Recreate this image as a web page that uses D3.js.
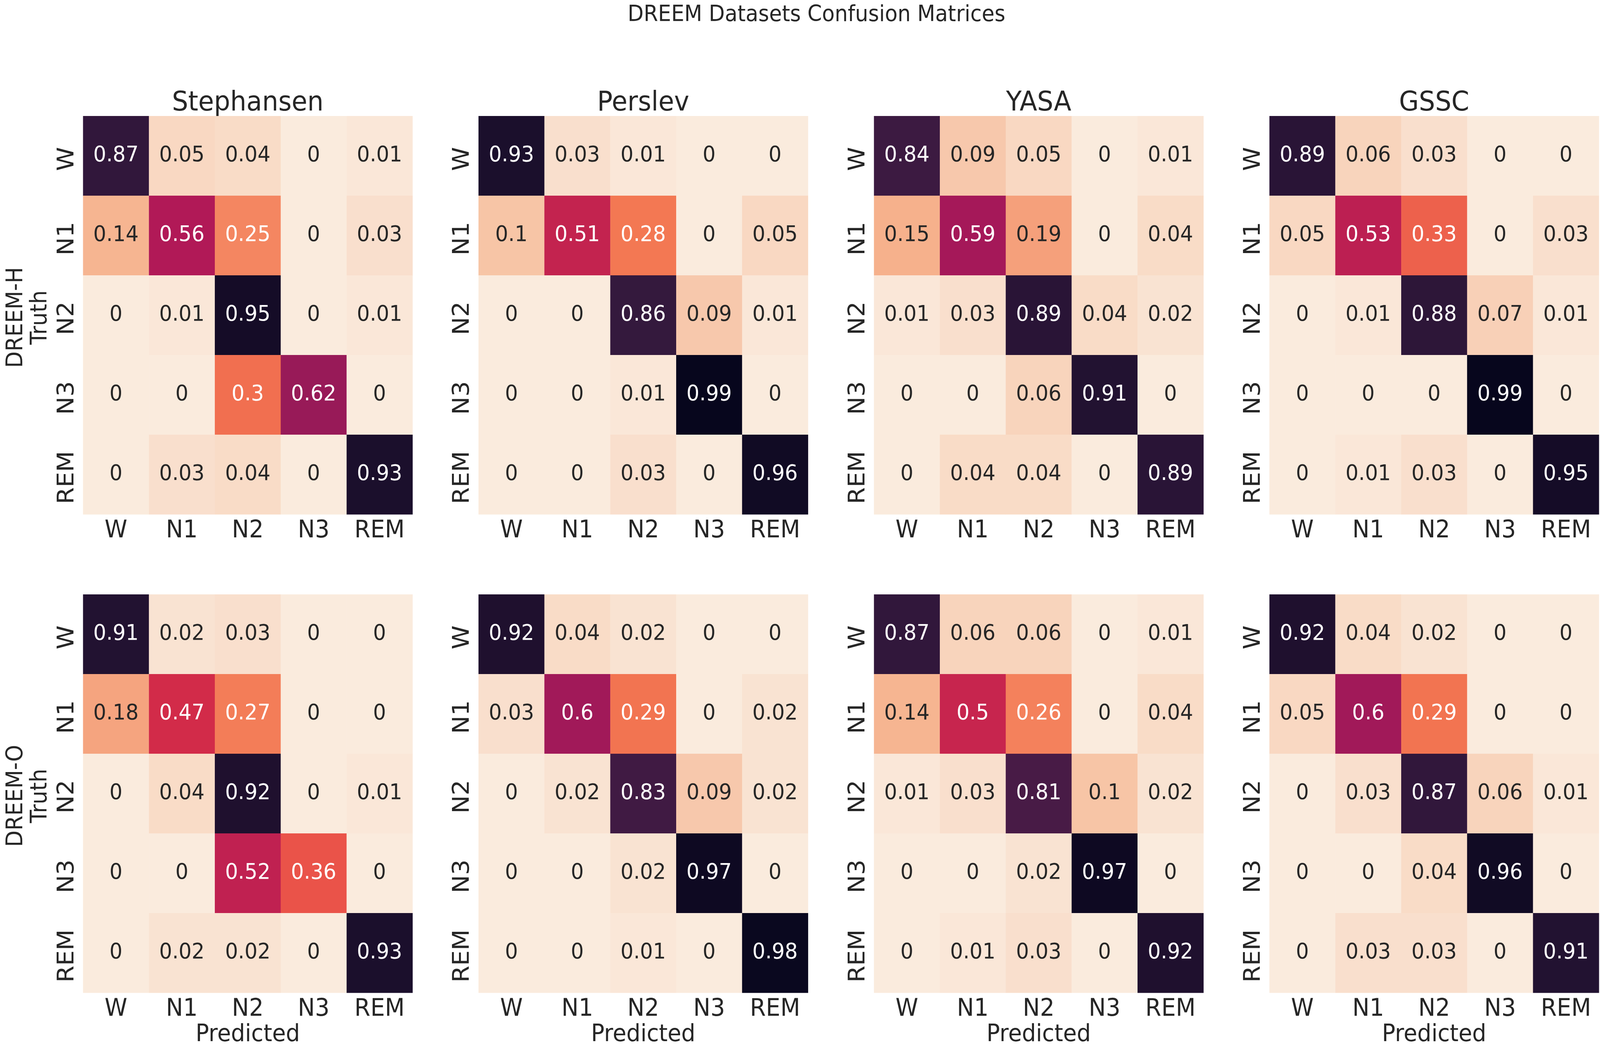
<!DOCTYPE html>
<html lang="en">
<head>
  <meta charset="UTF-8">
  <title>DREEM Datasets Confusion Matrices</title>
  <style>
    html, body { margin: 0; padding: 0; background: #fff; overflow: hidden; }
    svg { display: block; width: 100vw; height: 100vh; font-family: 'DejaVu Sans', sans-serif; }
  </style>
</head>
<body>
<svg viewBox="0 0 4317 2681" preserveAspectRatio="none"></svg>

<script src="https://cdn.jsdelivr.net/npm/d3@7"></script>
<script>
  // sleep stages (rows = truth, cols = predicted)
  var stages = ['W', 'N1', 'N2', 'N3', 'REM'];
  var models = ['Stephansen', 'Perslev', 'YASA', 'GSSC'];
  var datasets = ['DREEM-H', 'DREEM-O'];

  // DREEM-H
  var hStephansen = [
    [0.87, 0.05, 0.04, 0, 0.01],
    [0.14, 0.56, 0.25, 0, 0.03],
    [0, 0.01, 0.95, 0, 0.01],
    [0, 0, 0.3, 0.62, 0],
    [0, 0.03, 0.04, 0, 0.93]
  ];
  var hPerslev = [
    [0.93, 0.03, 0.01, 0, 0],
    [0.1, 0.51, 0.28, 0, 0.05],
    [0, 0, 0.86, 0.09, 0.01],
    [0, 0, 0.01, 0.99, 0],
    [0, 0, 0.03, 0, 0.96]
  ];
  var hYasa = [
    [0.84, 0.09, 0.05, 0, 0.01],
    [0.15, 0.59, 0.19, 0, 0.04],
    [0.01, 0.03, 0.89, 0.04, 0.02],
    [0, 0, 0.06, 0.91, 0],
    [0, 0.04, 0.04, 0, 0.89]
  ];
  var hGssc = [
    [0.89, 0.06, 0.03, 0, 0],
    [0.05, 0.53, 0.33, 0, 0.03],
    [0, 0.01, 0.88, 0.07, 0.01],
    [0, 0, 0, 0.99, 0],
    [0, 0.01, 0.03, 0, 0.95]
  ];

  // DREEM-O
  var oStephansen = [
    [0.91, 0.02, 0.03, 0, 0],
    [0.18, 0.47, 0.27, 0, 0],
    [0, 0.04, 0.92, 0, 0.01],
    [0, 0, 0.52, 0.36, 0],
    [0, 0.02, 0.02, 0, 0.93]
  ];
  var oPerslev = [
    [0.92, 0.04, 0.02, 0, 0],
    [0.03, 0.6, 0.29, 0, 0.02],
    [0, 0.02, 0.83, 0.09, 0.02],
    [0, 0, 0.02, 0.97, 0],
    [0, 0, 0.01, 0, 0.98]
  ];
  var oYasa = [
    [0.87, 0.06, 0.06, 0, 0.01],
    [0.14, 0.5, 0.26, 0, 0.04],
    [0.01, 0.03, 0.81, 0.1, 0.02],
    [0, 0, 0.02, 0.97, 0],
    [0, 0.01, 0.03, 0, 0.92]
  ];
  var oGssc = [
    [0.92, 0.04, 0.02, 0, 0],
    [0.05, 0.6, 0.29, 0, 0],
    [0, 0.03, 0.87, 0.06, 0.01],
    [0, 0, 0.04, 0.96, 0],
    [0, 0.03, 0.03, 0, 0.91]
  ];

  var matrices = [
    [hStephansen, hPerslev, hYasa, hGssc],
    [oStephansen, oPerslev, oYasa, oGssc]
  ];

  var svg = d3.select('svg');
  var textColor = '#262626';

  // rocket colormap, reversed (0 -> cream, 1 -> near black)
  var rocket = d3.piecewise(d3.interpolateRgb,
    ['#03051a', '#35193e', '#701f57', '#ad1759', '#e13342', '#f37651', '#f6b48f', '#faebdd']);
  var color = d3.scaleSequential(function (t) { return rocket(1 - t); }).domain([0, 1]);

  // same rule seaborn uses to pick the annotation colour
  function luminance(c) {
    var rgb = d3.rgb(c);
    var lin = [rgb.r, rgb.g, rgb.b].map(function (v) {
      v = v / 255;
      return v <= 0.03928 ? v / 12.92 : Math.pow((v + 0.055) / 1.055, 2.4);
    });
    return 0.2126 * lin[0] + 0.7152 * lin[1] + 0.0722 * lin[2];
  }

  var hmW = 889, hmH = 1020;
  var left0 = 224, colStep = 1067;
  var tops = [297, 1522];

  var x = d3.scaleBand().domain(stages).range([0, hmW]);
  var y = d3.scaleBand().domain(stages).range([0, hmH]);

  // figure title
  svg.append('text')
    .attr('x', 2203).attr('y', 54)
    .attr('text-anchor', 'middle')
    .attr('font-size', 56)
    .attr('fill', textColor)
    .text('DREEM Datasets Confusion Matrices');

  datasets.forEach(function (ds, r) {
    models.forEach(function (model, c) {
      var mat = matrices[r][c];
      var g = svg.append('g')
        .attr('transform', `translate(${left0 + c * colStep}, ${tops[r]})`);

      var cells = [];
      mat.forEach(function (row, i) {
        row.forEach(function (v, j) {
          cells.push({truth: stages[i], pred: stages[j], value: v});
        });
      });

      g.selectAll('rect').data(cells).enter().append('rect')
        .attr('x', function (d) { return x(d.pred); })
        .attr('y', function (d) { return y(d.truth); })
        .attr('width', x.bandwidth() + 0.5)
        .attr('height', y.bandwidth() + 0.5)
        .attr('fill', function (d) { return color(d.value); });

      g.selectAll('text.annot').data(cells).enter().append('text')
        .attr('class', 'annot')
        .attr('x', function (d) { return x(d.pred) + x.bandwidth() / 2; })
        .attr('y', function (d) { return y(d.truth) + y.bandwidth() / 2 + 14; })
        .attr('text-anchor', 'middle')
        .attr('font-size', 55)
        .attr('fill', function (d) {
          return luminance(color(d.value)) > 0.408 ? textColor : '#ffffff';
        })
        .text(function (d) { return String(d.value); });

      // x ticks
      var xAxis = d3.axisBottom(x).tickSize(0);
      var gx = g.append('g')
        .attr('transform', `translate(0, ${hmH})`)
        .call(xAxis);
      gx.attr('font-size', null).attr('font-family', null);
      gx.select('.domain').remove();
      gx.selectAll('text')
        .attr('y', 59).attr('dy', 0)
        .attr('font-size', 62)
        .attr('fill', textColor);

      // y ticks, rotated
      var yAxis = d3.axisLeft(y).tickSize(0);
      var gy = g.append('g').call(yAxis);
      gy.attr('font-size', null).attr('font-family', null);
      gy.select('.domain').remove();
      gy.selectAll('text')
        .attr('x', 0).attr('dy', 0)
        .attr('text-anchor', 'middle')
        .attr('transform', 'translate(-26, 8) rotate(-90)')
        .attr('font-size', 62)
        .attr('fill', textColor);

      if (r === 0) {
        g.append('text')
          .attr('x', hmW / 2).attr('y', -14)
          .attr('text-anchor', 'middle')
          .attr('font-size', 69)
          .attr('fill', textColor)
          .text(model);
      }

      if (r === datasets.length - 1) {
        g.append('text')
          .attr('x', hmW / 2).attr('y', hmH + 124)
          .attr('text-anchor', 'middle')
          .attr('font-size', 60)
          .attr('fill', textColor)
          .text('Predicted');
      }

      if (c === 0) {
        var lab = g.append('g')
          .attr('transform', `translate(${60 - left0}, ${hmH / 2 + 6}) rotate(-90) scale(0.885, 1)`)
          .attr('font-size', 62)
          .attr('fill', textColor)
          .attr('text-anchor', 'middle');
        lab.append('text').attr('x', 0).attr('y', 0).text(ds);
        lab.append('text').attr('x', 0).attr('y', 65).text('Truth');
      }
    });
  });
</script>
</body>
</html>
